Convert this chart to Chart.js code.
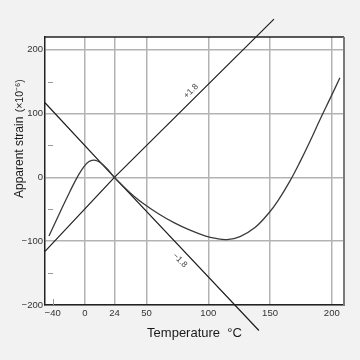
<!DOCTYPE html>
<html>
<head>
<meta charset="utf-8">
<script src="https://cdn.jsdelivr.net/npm/chart.js@4.4.1/dist/chart.umd.min.js"></script>
<style>
  html, body { margin: 0; padding: 0; background: #f2f2f2; }
  canvas { display: block; }
</style>
</head>
<body>
<canvas id="c" width="360" height="360"></canvas>
<script>
// ---- data ----
// apparent-strain curve (temperature °C, strain ×10^-6)
const curveTemp   = [-29, -20.1, -12, -5.5, -0.65, 3.4, 6.9, 10.7, 14.7, 18.8, 24, 28.5, 33.4, 39, 47.1, 59.3, 73, 85.2, 97.3, 106.2, 115.1, 125.7, 137.8, 149.2, 156.5, 166.2, 174.3, 182.4, 190.4, 198.5, 206.6];
const curveStrain = [-92, -55, -22, 2.4, 17, 24.8, 27.1, 25.3, 19.8, 11.9, 0, -8.9, -18.2, -28.1, -40.6, -56.6, -71.8, -82.8, -91.6, -95.7, -97.4, -92.7, -78.6, -55.5, -36.5, -5.5, 24.3, 56.5, 90.2, 123, 156];
// reference lines "+1.8" and "−1.8"
const plusTemp    = [-32.2, 24, 153.2];
const plusStrain  = [-116, 0, 248];
const minusTemp   = [-32.2, 24, 141];
const minusStrain = [117, 0, -240];
// axis ticks
const xTickLabels = ['−40', '0', '24', '50', '100', '150', '200'];
// the reference prints "−40" near the left end of the axis, at about −26 on the linear part
const xTickValues = [-26, 0, 24, 50, 100, 150, 200];
const yTickValues = [-200, -100, 0, 100, 200];
const yTickLabels = ['−200', '−100', '0', '100', '200'];
const yMinorTicks = [-150, -50, 50, 150];
const lineLabels  = ['+1.8', '−1.8'];

const toPts = (xs, ys) => xs.map((t, i) => ({ x: t, y: ys[i] }));

const decor = {
  id: 'decor',
  beforeDraw(chart) {
    const { ctx, chartArea: a } = chart;
    ctx.save();
    ctx.fillStyle = '#f2f2f2';
    ctx.fillRect(0, 0, chart.width, chart.height);
    ctx.fillStyle = '#ffffff';
    ctx.fillRect(a.left, a.top, a.right - a.left, a.bottom - a.top);
    ctx.restore();
  },
  afterDraw(chart) {
    const { ctx, chartArea: a, scales: { x, y } } = chart;
    ctx.save();
    // minor ticks
    ctx.strokeStyle = '#9a9a9a';
    ctx.lineWidth = 1;
    yMinorTicks.forEach(v => {
      const py = Math.round(y.getPixelForValue(v)) + 0.5;
      ctx.beginPath(); ctx.moveTo(a.left + 3, py); ctx.lineTo(a.left + 8, py); ctx.stroke();
    });
    const px = Math.round(x.getPixelForValue(xTickValues[0])) + 0.5;
    ctx.beginPath(); ctx.moveTo(px, a.bottom - 6); ctx.lineTo(px, a.bottom); ctx.stroke();
    // top and right frame
    ctx.strokeStyle = '#222';
    ctx.lineWidth = 1.5;
    ctx.beginPath(); ctx.moveTo(a.left, a.top); ctx.lineTo(a.right, a.top); ctx.stroke();
    ctx.strokeStyle = '#7a7a7a';
    ctx.lineWidth = 2;
    ctx.beginPath(); ctx.moveTo(a.right, a.top); ctx.lineTo(a.right, a.bottom + 1); ctx.stroke();
    // labels on the straight lines
    ctx.fillStyle = '#444';
    ctx.font = '8.5px "Liberation Sans Narrow", "Liberation Sans", sans-serif';
    ctx.textAlign = 'center';
    ctx.textBaseline = 'middle';
    ctx.save();
    ctx.translate(x.getPixelForValue(86), y.getPixelForValue(135));
    ctx.rotate(-Math.PI / 4);
    ctx.fillText(lineLabels[0], 0, 0);
    ctx.restore();
    ctx.save();
    ctx.translate(x.getPixelForValue(77), y.getPixelForValue(-130));
    ctx.rotate(Math.PI / 4 + 0.02);
    ctx.fillText(lineLabels[1], 0, 0);
    ctx.restore();
    // y axis title
    ctx.translate(20, 198);
    ctx.rotate(-Math.PI / 2);
    ctx.textAlign = 'left';
    ctx.textBaseline = 'middle';
    ctx.fillStyle = '#1a1a1a';
    ctx.font = '12px "Liberation Sans Narrow", "Liberation Sans", sans-serif';
    ctx.fillText('Apparent strain', 0, 0);
    const w = ctx.measureText('Apparent strain ').width;
    ctx.font = '10.5px "Liberation Sans Narrow", "Liberation Sans", sans-serif';
    ctx.fillText('(×10⁻⁶)', w + 1, 0);
    ctx.restore();
  }
};

const gridColor = '#b3b3b3';
const tickFont = { family: '"Liberation Sans Narrow", "Liberation Sans", sans-serif', size: 9.5 };

new Chart(document.getElementById('c'), {
  type: 'line',
  data: {
    datasets: [
      { data: toPts(curveTemp, curveStrain), borderColor: '#3a3a3a', borderWidth: 1.3, pointRadius: 0, tension: 0.4, fill: false },
      { data: toPts(plusTemp, plusStrain), borderColor: '#1e1e1e', borderWidth: 1.2, pointRadius: 0, tension: 0, clip: false, fill: false },
      { data: toPts(minusTemp, minusStrain), borderColor: '#1e1e1e', borderWidth: 1.2, pointRadius: 0, tension: 0, clip: false, fill: false }
    ]
  },
  options: {
    responsive: false,
    animation: false,
    devicePixelRatio: 1,
    layout: { padding: { top: 37, right: 16, left: 0, bottom: 0 } },
    plugins: { legend: { display: false }, tooltip: { enabled: false } },
    scales: {
      x: {
        type: 'linear',
        min: -32.2,
        max: 209.9,
        afterBuildTicks: s => { s.ticks = xTickValues.map(v => ({ value: v })); },
        afterFit: s => { s.height = 55; },
        ticks: {
          autoSkip: false, maxRotation: 0, padding: 3,
          color: '#333', font: tickFont,
          callback: (v, i) => xTickLabels[i]
        },
        grid: {
          drawTicks: false,
          lineWidth: 1.5,
          color: c => (c.tick && c.tick.value === xTickValues[0]) ? 'rgba(0,0,0,0)' : gridColor
        },
        border: { color: '#222', width: 1.5 },
        title: {
          display: true, text: 'Temperature  °C', color: '#1a1a1a',
          font: { family: '"Liberation Sans", Arial, sans-serif', size: 13 },
          padding: { top: 0, bottom: 19 }
        }
      },
      y: {
        type: 'linear',
        min: -200,
        max: 220,
        afterBuildTicks: s => { s.ticks = yTickValues.map(v => ({ value: v })); },
        afterFit: s => { s.width = 45; },
        ticks: {
          padding: 2, color: '#333', font: tickFont,
          callback: (v, i) => yTickLabels[i]
        },
        grid: { drawTicks: false, lineWidth: 1.5, color: gridColor },
        border: { color: '#222', width: 1.5 }
      }
    }
  },
  plugins: [decor]
});
</script>
</body>
</html>
